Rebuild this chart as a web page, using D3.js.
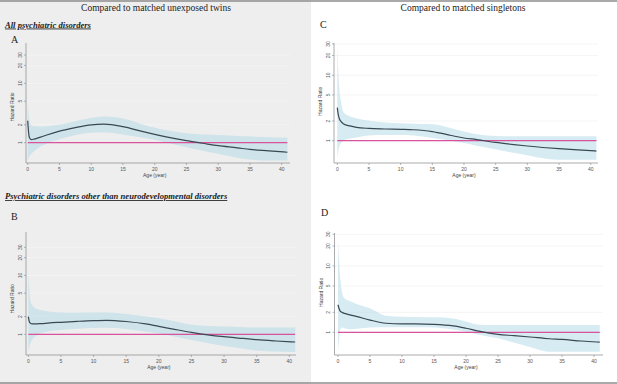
<!doctype html>
<html>
<head>
<script src="https://d3js.org/d3.v7.min.js"></script>
<style>
body { margin: 0; background: #fff; }
text { font-family: "Liberation Sans", Arial, sans-serif; }
.serif { font-family: "Liberation Serif", "Times New Roman", serif; }
</style>
</head>
<body>
<svg width="617" height="384"></svg>
<script>
// age grid (years) shared by every panel
var ages = [0, 0.15, 0.3, 0.6, 1, 2, 3, 5, 7.5, 10, 12, 15, 18, 20, 22, 25, 27.5, 30, 33, 35, 38, 40.9];

// A: all psychiatric disorders vs unexposed twins
var hrA = [2.35, 1.45, 1.2, 1.13, 1.15, 1.24, 1.35, 1.57, 1.8, 2.0, 2.05, 1.86, 1.55, 1.38, 1.24, 1.08, 0.98, 0.89, 0.82, 0.77, 0.73, 0.69];
var loA = [0.5, 0.55, 0.6, 0.66, 0.72, 0.86, 0.97, 1.14, 1.35, 1.47, 1.5, 1.38, 1.22, 1.12, 1.0, 0.84, 0.74, 0.65, 0.56, 0.52, 0.5, 0.5];
var hiA = [5.0, 3.0, 2.2, 1.95, 1.9, 1.88, 1.9, 2.0, 2.3, 2.6, 2.75, 2.55, 2.05, 1.78, 1.6, 1.44, 1.38, 1.35, 1.3, 1.27, 1.24, 1.21];

// B: other than neurodevelopmental vs unexposed twins
var hrB = [2.0, 1.65, 1.55, 1.5, 1.5, 1.52, 1.55, 1.6, 1.66, 1.71, 1.73, 1.65, 1.5, 1.36, 1.24, 1.08, 0.98, 0.91, 0.85, 0.81, 0.77, 0.74];
var loB = [0.5, 0.6, 0.7, 0.82, 0.91, 1.05, 1.12, 1.18, 1.24, 1.28, 1.29, 1.23, 1.1, 1.03, 0.94, 0.8, 0.71, 0.63, 0.57, 0.53, 0.51, 0.5];
var hiB = [11, 6, 3.8, 3.1, 2.8, 2.55, 2.45, 2.35, 2.33, 2.35, 2.35, 2.22, 2.0, 1.87, 1.7, 1.45, 1.38, 1.35, 1.32, 1.31, 1.31, 1.31];

// C: all psychiatric disorders vs singletons
var hrC = [3.2, 2.5, 2.2, 1.95, 1.8, 1.68, 1.6, 1.54, 1.51, 1.49, 1.47, 1.38, 1.2, 1.1, 1.04, 0.94, 0.88, 0.83, 0.78, 0.755, 0.725, 0.695];
var loC = [0.55, 0.68, 0.8, 0.93, 1.02, 1.08, 1.12, 1.2, 1.22, 1.22, 1.2, 1.1, 1.0, 0.92, 0.84, 0.74, 0.66, 0.6, 0.53, 0.51, 0.51, 0.51];
var hiC = [27, 12, 6.5, 3.8, 2.7, 2.35, 2.2, 2.02, 1.9, 1.85, 1.82, 1.78, 1.55, 1.38, 1.26, 1.18, 1.17, 1.17, 1.17, 1.17, 1.17, 1.17];

// D: other than neurodevelopmental vs singletons
var hrD = [2.6, 2.3, 2.12, 2.0, 1.93, 1.82, 1.72, 1.53, 1.37, 1.34, 1.34, 1.32, 1.25, 1.15, 1.04, 0.93, 0.89, 0.85, 0.8, 0.78, 0.74, 0.71];
var loD = [0.54, 0.75, 1.05, 1.18, 1.15, 1.11, 1.13, 1.18, 1.19, 1.19, 1.19, 1.18, 1.1, 1.02, 0.92, 0.81, 0.7, 0.6, 0.51, 0.51, 0.51, 0.51];
var hiD = [23, 13, 7.5, 4.2, 3.25, 2.9, 2.65, 2.3, 1.78, 1.72, 1.7, 1.68, 1.62, 1.45, 1.3, 1.29, 1.29, 1.29, 1.29, 1.29, 1.29, 1.29];

var xTicks = [0, 5, 10, 15, 20, 25, 30, 35, 40];
var yTicks = [1, 2, 5, 10, 20, 30];
var headers = ["Compared to matched unexposed twins", "Compared to matched singletons"];
var outcomes = ["All psychiatric disorders", "Psychiatric disorders other than neurodevelopmental disorders"];

var svg = d3.select("svg");

// left half has a grey background
svg.append("rect").attr("x", 0).attr("y", 0).attr("width", 311).attr("height", 384).attr("fill", "#eeeeee");
svg.append("line").attr("x1", 0).attr("x2", 617).attr("y1", 1).attr("y2", 1).attr("stroke", "#8c8c8c").attr("stroke-width", 1.5);
svg.append("line").attr("x1", 0).attr("x2", 617).attr("y1", 383).attr("y2", 383).attr("stroke", "#8c8c8c").attr("stroke-width", 1.5);

// column headers
svg.append("text").attr("class", "serif").attr("x", 156).attr("y", 11).attr("text-anchor", "middle")
    .style("font-size", "9.5px").style("fill", "#222").text(headers[0]);
svg.append("text").attr("class", "serif").attr("x", 463).attr("y", 11).attr("text-anchor", "middle")
    .style("font-size", "9.5px").style("fill", "#222").text(headers[1]);

// row titles (left column only)
svg.append("text").attr("class", "serif").attr("x", 5).attr("y", 27.5)
    .style("font-size", "8.6px").style("font-weight", "bold").style("font-style", "italic")
    .style("text-decoration", "underline").style("fill", "#222").text(outcomes[0]);
svg.append("text").attr("class", "serif").attr("x", 5).attr("y", 199)
    .style("font-size", "8.6px").style("font-weight", "bold").style("font-style", "italic")
    .style("text-decoration", "underline").style("fill", "#222").text(outcomes[1]);

var panels = [
    {letter: "A", hr: hrA, lo: loA, hi: hiA, lx: 11, ly: 43, x0: 27.7, x40: 281.7, left: 26, right: 290, top: 43, bottom: 163, y1: 142.7, y30: 55},
    {letter: "B", hr: hrB, lo: loB, hi: hiB, lx: 11, ly: 220, x0: 28.3, x40: 289.3, left: 26, right: 296, top: 232, bottom: 355, y1: 334.3, y30: 247.3},
    {letter: "C", hr: hrC, lo: loC, hi: hiC, lx: 320, ly: 28, x0: 337.3, x40: 590.7, left: 334, right: 598, top: 43, bottom: 163, y1: 140.7, y30: 44},
    {letter: "D", hr: hrD, lo: loD, hi: hiD, lx: 321, ly: 216, x0: 338, x40: 594, left: 334.5, right: 603, top: 233, bottom: 355, y1: 332.3, y30: 234.3}
];

panels.forEach(function(p) {
    var x = d3.scaleLinear().domain([0, 40]).range([p.x0, p.x40]);
    var y = d3.scaleLog().domain([1, 30]).range([p.y1, p.y30]);
    var rows = ages.map(function(a, i) { return {age: a, hr: p.hr[i], lo: p.lo[i], hi: p.hi[i]}; });
    var g = svg.append("g");

    g.append("text").attr("class", "serif").attr("x", p.lx).attr("y", p.ly)
        .style("font-size", "10px").style("fill", "#222").text(p.letter);

    // grid
    g.selectAll(".grid").data(yTicks).enter().append("line")
        .attr("x1", p.left).attr("x2", p.right)
        .attr("y1", function(d) { return y(d); }).attr("y2", function(d) { return y(d); })
        .attr("stroke", p.left < 300 ? "#f6f6f6" : "#eeeeee").attr("stroke-width", 0.6);

    var area = d3.area()
        .x(function(d) { return x(d.age); })
        .y0(function(d) { return y(d.lo); })
        .y1(function(d) { return y(d.hi); })
        .curve(d3.curveMonotoneX);
    g.append("path").datum(rows).attr("d", area)
        .style("fill", "rgb(173,216,230)").style("fill-opacity", 0.5);

    // reference line at HR = 1
    g.append("line").attr("x1", x(0)).attr("x2", x(ages[ages.length - 1]))
        .attr("y1", y(1)).attr("y2", y(1))
        .attr("stroke", "#d8529c").attr("stroke-width", 1.3);

    var line = d3.line()
        .x(function(d) { return x(d.age); })
        .y(function(d) { return y(d.hr); })
        .curve(d3.curveMonotoneX);
    g.append("path").datum(rows).attr("d", line)
        .style("fill", "none").style("stroke", "#3a4853").style("stroke-width", 1.2);

    // axes
    g.append("line").attr("x1", p.left).attr("x2", p.left).attr("y1", p.top).attr("y2", p.bottom)
        .attr("stroke", "#888").attr("stroke-width", 0.7);
    g.append("line").attr("x1", p.left).attr("x2", p.right).attr("y1", p.bottom).attr("y2", p.bottom)
        .attr("stroke", "#888").attr("stroke-width", 0.7);

    var yt = g.selectAll(".yt").data(yTicks).enter().append("g")
        .attr("transform", function(d) { return "translate(" + p.left + "," + y(d) + ")"; });
    yt.append("line").attr("x1", -2).attr("x2", 0).attr("stroke", "#888").attr("stroke-width", 0.6);
    yt.append("text").attr("transform", "translate(-4.5,0)rotate(-90)").attr("text-anchor", "middle")
        .style("font-size", "5px").style("fill", "#555").text(function(d) { return d; });

    var xt = g.selectAll(".xt").data(xTicks).enter().append("g")
        .attr("transform", function(d) { return "translate(" + x(d) + "," + p.bottom + ")"; });
    xt.append("line").attr("y1", 0).attr("y2", 2).attr("stroke", "#888").attr("stroke-width", 0.6);
    xt.append("text").attr("y", 8).attr("text-anchor", "middle")
        .style("font-size", "5px").style("fill", "#555").text(function(d) { return d; });

    g.append("text").attr("x", (x(0) + x(40)) / 2).attr("y", p.bottom + 14).attr("text-anchor", "middle")
        .style("font-size", "5px").style("fill", "#444").text("Age (year)");
    g.append("text").attr("transform", "translate(" + (p.left - 12) + "," + y(4) + ")rotate(-90)")
        .attr("text-anchor", "middle").style("font-size", "5px").style("fill", "#444").text("Hazard Ratio");
});
</script>
</body>
</html>
